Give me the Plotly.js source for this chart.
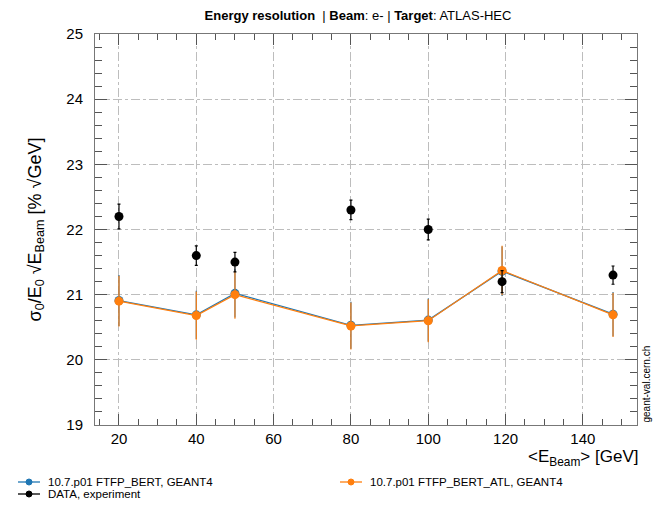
<!DOCTYPE html>
<html>
<head>
<meta charset="utf-8">
<script src="https://cdn.plot.ly/plotly-3.0.1.min.js"></script>
<style>html,body{margin:0;padding:0;background:#fff;}#chart{width:666px;height:505px;}</style>
</head>
<body>
<div id="chart"></div>
<script>
// Beam energies (GeV)
const energies = [20, 40, 50, 80, 100, 119.1, 147.8];
// DATA, experiment
const dataVals = [22.2, 21.6, 21.5, 22.3, 22.0, 21.2, 21.3];
const dataErr  = [0.19, 0.15, 0.15, 0.15, 0.16, 0.17, 0.14];
// 10.7.p01 FTFP_BERT, GEANT4
const bertVals = [20.91, 20.69, 21.02, 20.53, 20.61, 21.36, 20.70];
const bertErr  = [0.39, 0.37, 0.37, 0.36, 0.33, 0.38, 0.34];
// 10.7.p01 FTFP_BERT_ATL, GEANT4
const atlVals  = [20.90, 20.68, 21.00, 20.52, 20.60, 21.37, 20.69];
const atlErr   = [0.39, 0.37, 0.37, 0.36, 0.33, 0.38, 0.34];

const legendNames = ["10.7.p01 FTFP_BERT, GEANT4", "DATA, experiment", "10.7.p01 FTFP_BERT_ATL, GEANT4"];
const colors = ["#1f77b4", "#000000", "#ff7f0e"];

const font = "Liberation Sans, Arial, Helvetica, sans-serif";

const traces = [
  {x: energies, y: bertVals, type: 'scatter', mode: 'lines+markers', name: legendNames[0],
   line: {color: colors[0], width: 1.3}, marker: {color: colors[0], size: 9},
   error_y: {type: 'data', array: bertErr, visible: true, color: colors[0], thickness: 1.2, width: 0}},
  {x: energies, y: atlVals, type: 'scatter', mode: 'lines+markers', name: legendNames[2],
   line: {color: colors[2], width: 1.3}, marker: {color: colors[2], size: 9},
   error_y: {type: 'data', array: atlErr, visible: true, color: colors[2], thickness: 1.2, width: 0}},
  {x: energies, y: dataVals, type: 'scatter', mode: 'markers', name: legendNames[1],
   marker: {color: colors[1], size: 9},
   error_y: {type: 'data', array: dataErr, visible: true, color: colors[1], thickness: 1.2, width: 1.5}}
];

// manual legend (compact rows like the reference)
const legendItems = [
  {name: legendNames[0], color: colors[0], x: 18, y: 482},
  {name: legendNames[1], color: colors[1], x: 18, y: 494},
  {name: legendNames[2], color: colors[2], x: 340, y: 482}
];
const W = 666, H = 505;
const PL = 95, PR = 637, PT = 34, PB = 425;
const px = v => (v - PL) / (PR - PL);
const py = v => (PB - v) / (PB - PT);
const shapes = [];
const annotations = [];
legendItems.forEach(it => {
  shapes.push({type: 'line', xref: 'paper', yref: 'paper',
    x0: px(it.x), x1: px(it.x + 22), y0: py(it.y), y1: py(it.y),
    line: {color: it.color, width: 1.3}});
  const cx = it.x + 11, r = 3;
  shapes.push({type: 'circle', xref: 'paper', yref: 'paper',
    x0: px(cx - r), x1: px(cx + r), y0: py(it.y + r), y1: py(it.y - r),
    fillcolor: it.color, line: {color: it.color, width: 1}});
  annotations.push({text: it.name, xref: 'paper', yref: 'paper',
    x: px(it.x + 28), y: py(it.y), xanchor: 'left', yanchor: 'middle',
    showarrow: false, font: {family: font, size: 11.5, color: '#000'}});
});
annotations.push({text: '<E<sub>Beam</sub>> [GeV]', xref: 'paper', yref: 'paper',
  x: px(640), y: py(458), xanchor: 'right', yanchor: 'middle',
  showarrow: false, font: {family: font, size: 17, color: '#000'}});
annotations.push({text: 'geant-val.cern.ch', xref: 'paper', yref: 'paper',
  x: px(646), y: 0, xanchor: 'center', yanchor: 'bottom', textangle: -90,
  showarrow: false, font: {family: font, size: 10, color: '#000'}});

const layout = {
  width: W, height: H,
  margin: {l: PL, r: W - PR, t: PT, b: H - PB, pad: 0},
  paper_bgcolor: '#fff', plot_bgcolor: '#fff',
  showlegend: false,
  title: {text: '<b>Energy resolution</b>  | <b>Beam</b>: e- | <b>Target</b>: ATLAS-HEC',
          x: 358 / W, xanchor: 'center', y: 1 - 15 / H, yanchor: 'middle',
          font: {family: font, size: 13, color: '#000'}},
  xaxis: {range: [13.8, 154], tickvals: [20, 40, 60, 80, 100, 120, 140],
          ticks: 'inside', ticklen: 11, tickcolor: '#555', tickwidth: 1,
          showline: true, linecolor: '#777', linewidth: 1, mirror: 'ticks',
          showgrid: true, gridcolor: '#bdbdbd', griddash: 'dashdot', gridwidth: 1,
          zeroline: false,
          minor: {dtick: 5, tick0: 0, ticks: 'inside', ticklen: 6, tickcolor: '#555', showgrid: false},
          tickfont: {family: font, size: 15, color: '#000'}},
  yaxis: {range: [19, 25], dtick: 1, tick0: 19,
          ticks: 'inside', ticklen: 12, tickcolor: '#555', tickwidth: 1,
          showline: true, linecolor: '#777', linewidth: 1, mirror: 'ticks',
          showgrid: true, gridcolor: '#bdbdbd', griddash: 'dashdot', gridwidth: 1,
          zeroline: false,
          minor: {dtick: 0.2, ticks: 'inside', ticklen: 7, tickcolor: '#555', showgrid: false},
          tickfont: {family: font, size: 15, color: '#000'},
          ticklabelstandoff: 8,
          title: {text: 'σ<sub>0</sub>/E<sub>0</sub> √E<sub>Beam</sub> [% √GeV]',
                  font: {family: font, size: 18, color: '#000'}, standoff: 20}},
  shapes: shapes,
  annotations: annotations
};

Plotly.newPlot('chart', traces, layout, {displayModeBar: false, staticPlot: true});
</script>
</body>
</html>
